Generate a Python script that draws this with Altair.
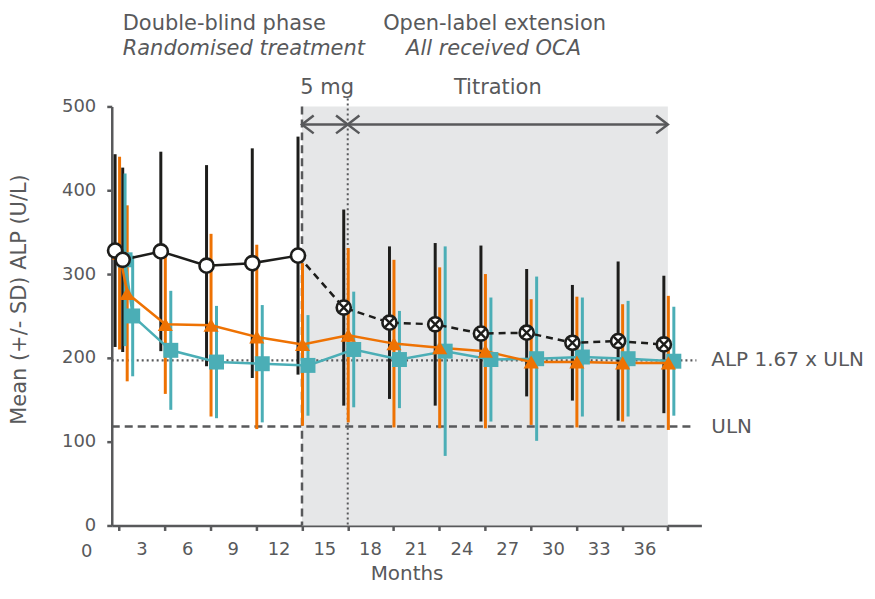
import altair as alt
import pandas as pd

# ---------------- data ----------------
months = [0, 0.5, 3, 6, 9, 12, 15, 18, 21, 24, 27, 30, 33, 36]
black_mean = [328, 317, 327, 310, 313, 322, 260, 242, 240, 229, 230, 218, 220, 216]
black_sd = [115, 110, 119, 120, 137, 142, 117, 91, 97, 105, 76, 69, 95, 82]
orange_mean = [325, 277, 240, 239, 225, 216, 227, 217, 212, 208, 195, 195, 194, 194]
orange_sd = [115, 105, 83, 109, 110, 97, 104, 100, 96, 92, 75, 78, 70, 80]
teal_mean = [317, 250, 209, 195, 193, 191, 210, 198, 208, 198, 199, 201, 199, 196]
teal_sd = [103, 72, 71, 67, 70, 60, 69, 58, 125, 74, 98, 71, 69, 65]
series_names = ["black", "orange", "teal"]

x_ticks = list(range(0, 37, 3))
y_ticks = [0, 100, 200, 300, 400, 500]
ULN = 118
ALP_167 = 197
db_end = 12      # end of double-blind phase
fixed_end = 15   # end of 5 mg period
ole_end = 36     # end of titration

# ---------------- style ----------------
BLACK = "#1d1d1b"
ORANGE = "#ee7203"
TEAL = "#4baeb6"
GREY = "#58595b"
SHADE = "#e6e7e8"
FONT = "DejaVu Sans"
W, H = 591, 420

rows = []
for name, means, sds in zip(series_names, [black_mean, orange_mean, teal_mean],
                            [black_sd, orange_sd, teal_sd]):
    for m, mu, sd in zip(months, means, sds):
        rows.append({"series": name, "month": m, "mean": mu, "sd": sd})
df = pd.DataFrame(rows)

x_scale = alt.Scale(domain=[-0.48, 38.2], nice=False, zero=False)
y_scale = alt.Scale(domain=[0, 500], nice=False)
x_axis = alt.Axis(values=x_ticks, title="Months", labelExpr="datum.value == 0 ? '' : datum.label",
                  labelOffset=-23.5, labelPadding=10, labelFlush=False, tickSize=5,
                  titleY=48, titleBaseline="middle")
y_axis = alt.Axis(values=y_ticks, title="Mean (+/- SD) ALP (U/L)", tickSize=5, labelPadding=11,
                  titleX=-92, titleY=193, titleBaseline="middle", titleAngle=270, titleFontSize=21)
X = alt.X("month:Q", scale=x_scale, axis=x_axis)
Y = alt.Y("mean:Q", scale=y_scale, axis=y_axis)

base = alt.Chart(df)

def sel(series):
    return base.transform_filter(alt.datum.series == series)

def errbars(series, color, dx):
    return sel(series).transform_calculate(
        lo="datum.mean - datum.sd", hi="datum.mean + datum.sd"
    ).mark_rule(color=color, strokeWidth=3, xOffset=dx).encode(
        x=X, y=alt.Y("lo:Q", scale=y_scale, axis=y_axis), y2="hi:Q")

# background shading of open-label phase
shade = alt.Chart(pd.DataFrame({"month": [db_end], "month_end": [ole_end]})).mark_rect(
    color=SHADE).encode(x=X, x2="month_end:Q", y=alt.value(0), y2=alt.value(H))

vdash = alt.Chart(pd.DataFrame({"month": [db_end]})).mark_rule(
    color=GREY, strokeWidth=2.5, strokeDash=[8, 5]).encode(x=X, y=alt.value(0), y2=alt.value(H))
vdot = alt.Chart(pd.DataFrame({"month": [fixed_end]})).mark_rule(
    color=GREY, strokeWidth=2, strokeDash=[2, 3]).encode(x=X, y=alt.value(-8), y2=alt.value(H))

ref167 = alt.Chart(pd.DataFrame({"mean": [ALP_167]})).mark_rule(
    color=GREY, strokeWidth=2.2, strokeDash=[2, 3]).encode(
    y=Y, x=alt.value(0), x2=alt.value(586))
refuln = alt.Chart(pd.DataFrame({"mean": [ULN]})).mark_rule(
    color=GREY, strokeWidth=2.5, strokeDash=[8, 5]).encode(
    y=Y, x=alt.value(0), x2=alt.value(585))
ref_labels = alt.Chart(pd.DataFrame({"mean": [ALP_167, ULN], "label": ["ALP 1.67 x ULN", "ULN"]})).mark_text(
    align="left", baseline="middle", font=FONT, fontSize=20, color=GREY).encode(
    y=Y, x=alt.value(601), text="label:N")

# phase arrows
ARROW_Y = 18
arrow_line = alt.Chart(pd.DataFrame({"month": [db_end], "month_end": [ole_end]})).mark_rule(
    color=GREY, strokeWidth=2.5).encode(x=X, x2="month_end:Q", y=alt.value(ARROW_Y))
left_heads = alt.Chart(pd.DataFrame({"month": [db_end, fixed_end]})).mark_point(
    shape="M1.3,-1L0,0L1.3,1", size=324, filled=False, stroke=GREY, strokeWidth=2.5, opacity=1).encode(
    x=X, y=alt.value(ARROW_Y))
right_heads = alt.Chart(pd.DataFrame({"month": [fixed_end, ole_end]})).mark_point(
    shape="M-1.3,-1L0,0L-1.3,1", size=324, filled=False, stroke=GREY, strokeWidth=2.5, opacity=1).encode(
    x=X, y=alt.value(ARROW_Y))

# series
err_b = errbars("black", BLACK, -4)
err_o = errbars("orange", ORANGE, 0.5)
err_t = errbars("teal", TEAL, 6)

line_t = sel("teal").mark_line(color=TEAL, strokeWidth=2.5, xOffset=6).encode(x=X, y=Y, order="month:Q")
line_o = sel("orange").mark_line(color=ORANGE, strokeWidth=2.5, xOffset=0.5).encode(x=X, y=Y, order="month:Q")
line_b1 = sel("black").transform_filter(alt.datum.month <= db_end).mark_line(
    color=BLACK, strokeWidth=2.5, xOffset=-4).encode(x=X, y=Y, order="month:Q")
line_b2 = sel("black").transform_filter(alt.datum.month >= db_end).mark_line(
    color=BLACK, strokeWidth=2.5, strokeDash=[7, 5], xOffset=-4).encode(x=X, y=Y, order="month:Q")

pt_t = sel("teal").mark_point(shape="square", filled=True, color=TEAL, size=225, opacity=1, xOffset=6).encode(x=X, y=Y)
pt_o = sel("orange").mark_point(shape="triangle-up", filled=True, color=ORANGE, size=230, opacity=1,
                                xOffset=0.5).encode(x=X, y=Y)
pt_b = sel("black").mark_point(shape="circle", filled=True, fill="white", stroke=BLACK, strokeWidth=2.6,
                               size=200, opacity=1, xOffset=-4).encode(x=X, y=Y)
pt_bx = sel("black").transform_filter(alt.datum.month > db_end).mark_point(
    shape="M-0.6,-0.6L0.6,0.6M-0.6,0.6L0.6,-0.6", filled=False, stroke=BLACK, strokeWidth=2.4,
    size=200, opacity=1, xOffset=-4).encode(x=X, y=Y)

# text annotations
def txt(label, x, y, size=21, style="normal"):
    return alt.Chart(pd.DataFrame({"t": [label]})).mark_text(
        align="left", baseline="middle", font=FONT, fontSize=size, fontStyle=style, color=GREY).encode(
        x=alt.value(x), y=alt.value(y), text="t:N")

texts = [
    txt("Double-blind phase", 11, -83),
    txt("Randomised treatment", 11, -58, style="italic"),
    txt("Open-label extension", 272, -83),
    txt("All received OCA", 295, -58, style="italic"),
    txt("5 mg", 189, -18),
    txt("Titration", 343, -18),
]
zero_label = alt.Chart(pd.DataFrame({"t": ["0"]})).mark_text(
    align="center", baseline="middle", font=FONT, fontSize=18, color=GREY).encode(
    x=alt.value(-25), y=alt.value(H + 26.5), text="t:N")

chart = alt.layer(
    shade, vdash, vdot, ref167, refuln, ref_labels,
    arrow_line, left_heads, right_heads,
    err_b, err_o, err_t,
    line_t, line_o, line_b1, line_b2,
    pt_t, pt_o, pt_b, pt_bx,
    *texts, zero_label,
).properties(
    width=W, height=H,
    autosize=alt.AutoSizeParams(type="none"),
    padding={"left": 104, "top": 98, "right": 166, "bottom": 59},
).configure_view(stroke=None).configure_axis(
    grid=False, domainColor=GREY, domainWidth=2.5, tickColor=GREY, tickWidth=2.5,
    labelColor=GREY, labelFont=FONT, labelFontSize=18, titleColor=GREY, titleFont=FONT,
    titleFontSize=20, titleFontWeight="normal",
)

chart.save("out.html", embed_options={"renderer": "svg", "actions": False})
